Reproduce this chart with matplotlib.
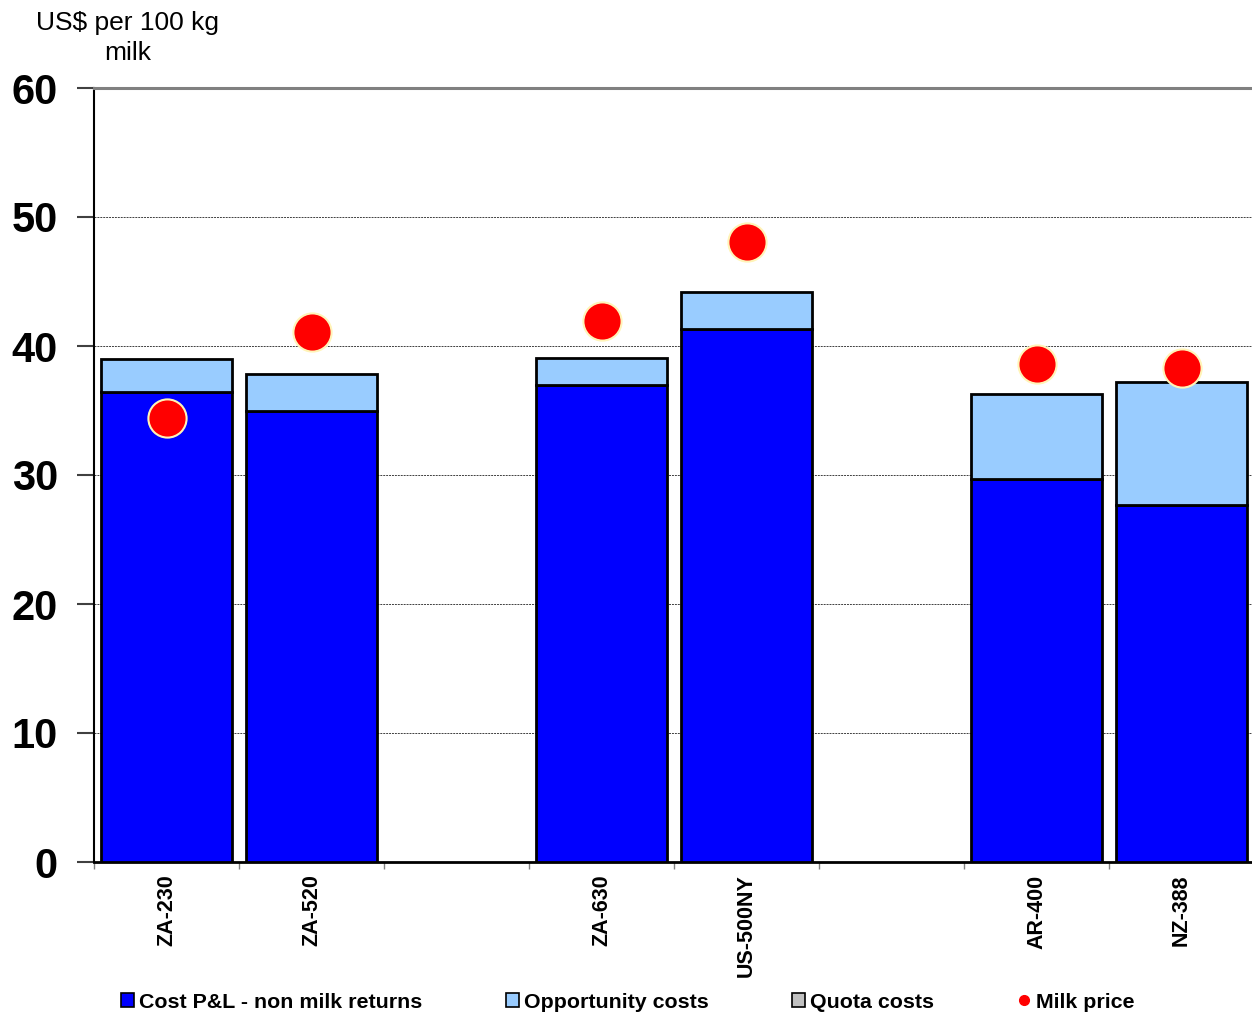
import matplotlib
matplotlib.use("Agg")
import matplotlib.pyplot as plt
from matplotlib.patches import Patch
from matplotlib.lines import Line2D
import numpy as np

plt.rcParams['font.family'] = ['Liberation Sans', 'DejaVu Sans']

# farms (empty strings are spacer slots between country groups)
farms = ["ZA-230", "ZA-520", "", "ZA-630", "US-500NY", "", "AR-400", "NZ-388"]
cost_pl = [36.4, 35.0, np.nan, 37.0, 41.3, np.nan, 29.7, 27.7]
opportunity = [2.6, 2.8, np.nan, 2.1, 2.9, np.nan, 6.6, 9.5]
quota = [0.0, 0.0, np.nan, 0.0, 0.0, np.nan, 0.0, 0.0]
milk_price = [34.4, 41.1, np.nan, 41.9, 48.1, np.nan, 38.6, 38.3]

C_COST = "#0000FF"
C_OPP = "#99CCFF"
C_QUOTA = "#C0C0C0"

fig = plt.figure(figsize=(12.52, 10.15), dpi=100)
ax = fig.add_axes([94 / 1252, 1 - 862 / 1015, 1160 / 1252, (862 - 88) / 1015])

x = np.arange(len(farms))
cost = np.nan_to_num(cost_pl)
opp = np.nan_to_num(opportunity)
quo = np.nan_to_num(quota)
mask = ~np.isnan(cost_pl)

w = 0.91
ax.bar(x[mask], cost[mask], w, color=C_COST, edgecolor="black", linewidth=2, zorder=3)
ax.bar(x[mask], opp[mask], w, bottom=cost[mask], color=C_OPP, edgecolor="black", linewidth=2, zorder=3)
ax.bar(x[mask], quo[mask], w, bottom=cost[mask] + opp[mask], color=C_QUOTA, edgecolor="black",
       linewidth=0, zorder=3)
ax.plot(x[mask], np.array(milk_price)[mask], "o", ms=27.5, color="#FF0000",
        markeredgecolor="#FFF4B8", markeredgewidth=1.5, zorder=5, clip_on=False)

ax.set_xlim(-0.5, 7.5)
ax.set_ylim(0, 60)
ax.set_yticks(range(0, 61, 10))
ax.set_yticklabels([str(v) for v in range(0, 61, 10)], fontsize=30, fontweight="bold")
ax.tick_params(axis="y", length=12, width=1.5, color="#404040", pad=14)

ax.set_xticks(x)
ax.set_xticklabels(farms, rotation=90, fontsize=15.5, fontweight="bold")
ax.set_xticks(np.arange(-0.5, 8, 1), minor=True)
ax.tick_params(axis="x", which="major", length=0, pad=9)
ax.tick_params(axis="x", which="minor", length=5, width=1, color="#808080")

for v in range(10, 60, 10):
    ax.axhline(v, color="#404040", linestyle=(0, (2, 1)), linewidth=0.7, zorder=1)

ax.spines["right"].set_visible(False)
ax.spines["top"].set_color("#808080")
ax.spines["top"].set_linewidth(2.2)
ax.spines["left"].set_linewidth(1.5)
ax.spines["bottom"].set_linewidth(2)

fig.text(128 / 1252, 1 - 38 / 1015, "US$ per 100 kg\nmilk", ha="center", va="center",
         fontsize=19, linespacing=1.35)

handles = [
    Patch(facecolor=C_COST, edgecolor="black", linewidth=1.2),
    Patch(facecolor=C_OPP, edgecolor="black", linewidth=1.2),
    Patch(facecolor=C_QUOTA, edgecolor="black", linewidth=1.2),
    Line2D([], [], marker="o", color="#FF0000", linestyle="none", ms=7),
]
labels = ["Cost P&L - non milk returns", "Opportunity costs", "Quota costs", "Milk price"]
fig.legend(handles, labels, loc="center left", bbox_to_anchor=(121 / 1252, 1 - 1002 / 1015),
           ncol=4, frameon=False, prop={"size": 15.4, "weight": "bold"},
           handlelength=0.6, handleheight=0.6, handletextpad=0.25, columnspacing=3.9,
           borderpad=0, borderaxespad=0)

fig.savefig("out.png", dpi=100)
